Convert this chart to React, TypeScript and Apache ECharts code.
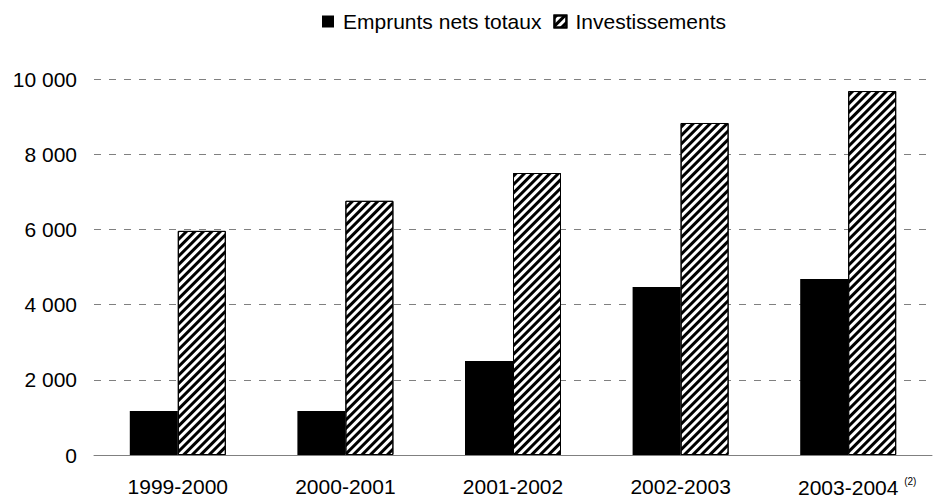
import React, { useEffect, useRef } from "react";
import * as echarts from "echarts";

const categories = ["1999-2000", "2000-2001", "2001-2002", "2002-2003", "2003-2004"];
const categoryNotes = ["", "", "", "", "(2)"];
const emprunts = [1170, 1170, 2500, 4470, 4680];
const investissements = [5960, 6760, 7500, 8830, 9680];
const yTicks = [0, 2000, 4000, 6000, 8000, 10000];

const FONT = "'Liberation Sans', Arial, sans-serif";

export default function App() {
  const ref = useRef<HTMLDivElement>(null);
  useEffect(() => {
    if (!ref.current) return;
    const chart = echarts.init(ref.current, null, { renderer: "svg" });
    chart.setOption({
      animation: false,
      backgroundColor: "#ffffff",
      textStyle: { fontFamily: FONT },
      legend: {
        top: 6,
        left: 317,
        icon: "rect",
        itemWidth: 12,
        itemHeight: 12,
        itemGap: 12,
        textStyle: { fontSize: 21, color: "#000", fontFamily: FONT, padding: [0, 0, 0, 4] },
        data: ["Emprunts nets totaux", "Investissements"],
      },
      grid: { left: 94, right: 4, top: 79, bottom: 45 },
      xAxis: {
        type: "category",
        data: categories,
        axisLine: { lineStyle: { color: "#808080", width: 1 } },
        axisTick: { show: false },
        axisLabel: {
          interval: 0,
          fontSize: 21,
          color: "#000",
          margin: 21,
          fontFamily: FONT,
          formatter: (v: string) => {
            const i = categories.indexOf(v);
            const note = categoryNotes[i];
            return note ? "{pad|" + note + "} " + v + " {sup|" + note + "}" : v;
          },
          rich: {
            sup: { fontSize: 10, verticalAlign: "top", padding: [0, 0, 12, 0], color: "#000" },
            pad: { fontSize: 10, verticalAlign: "top", padding: [0, 0, 12, 0], color: "rgba(0,0,0,0)" },
          },
        },
      },
      yAxis: {
        type: "value",
        min: yTicks[0],
        max: yTicks[yTicks.length - 1],
        interval: 2000,
        axisLine: { show: false },
        axisTick: { show: false },
        axisLabel: {
          fontSize: 21,
          color: "#000",
          margin: 17,
          fontFamily: FONT,
          formatter: (v: number) => String(v).replace(/\B(?=(\d{3})+(?!\d))/g, " "),
        },
        splitLine: { lineStyle: { color: "#808080", type: [7, 8], width: 1 } },
      },
      series: [
        {
          name: "Emprunts nets totaux",
          type: "bar",
          data: emprunts,
          barWidth: 48,
          barGap: "0%",
          itemStyle: { color: "#000000" },
        },
        {
          name: "Investissements",
          type: "bar",
          data: investissements,
          barWidth: 48,
          barGap: "0%",
          itemStyle: {
            color: "#ffffff",
            borderColor: "#000000",
            borderWidth: 1,
            decal: {
              symbol: "rect",
              symbolSize: 1,
              dashArrayX: [1, 0],
              dashArrayY: [3, 3],
              rotation: -Math.PI / 4,
              color: "#000000",
            },
          },
        },
      ],
    });
    return () => chart.dispose();
  }, []);
  return (
    <div
      ref={ref}
      style={{ position: "fixed", left: 0, top: 0, width: 936, height: 500 }}
    />
  );
}
